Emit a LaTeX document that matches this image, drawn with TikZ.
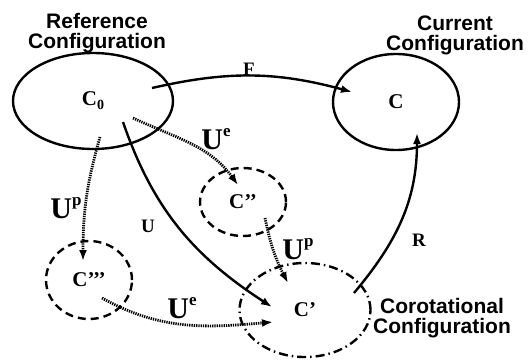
\documentclass[tikz,border=0pt]{standalone}
\usepackage{fontspec}
\setmainfont{Liberation Serif}
\setsansfont{Liberation Sans}
\usetikzlibrary{arrows.meta,shapes.geometric}

\newcommand\Uwith[1]{U\raisebox{13pt}{\fontsize{17}{17}\selectfont #1}}

\begin{document}
\begin{tikzpicture}[x=1pt,y=1pt,>={Latex[length=11pt,width=8pt]},
  conf/.style={ellipse,draw,line width=2.4pt,inner sep=0pt,font=\bfseries\fontsize{21}{21}\selectfont},
  title/.style={font=\sffamily\bfseries\fontsize{21}{20}\selectfont,align=center},
  map/.style={->,line width=2.4pt},
  dotmap/.style={->,line width=2.8pt,dash pattern=on 1.3pt off 1pt},
  lbl/.style={font=\bfseries\fontsize{19}{19}\selectfont},
  biglbl/.style={font=\bfseries\fontsize{30}{30}\selectfont}]
  \useasboundingbox (0,0) rectangle (529,362);

  % configurations
  \node (c0) [conf,minimum width=160,minimum height=96] at (93,261) {C\raisebox{-4pt}{\fontsize{14}{14}\selectfont 0}};
  \node (cur) [conf,minimum width=126,minimum height=96] at (396,260) {C};
  \node (cpp) [conf,dash pattern=on 8pt off 5pt,minimum width=86,minimum height=68] at (243,160) {C’’};
  \node (cppp) [conf,dash pattern=on 8pt off 5pt,minimum width=86,minimum height=78] at (89,82) {C’’’};
  \node (cp) [conf,dash pattern=on 9pt off 4pt on 1.5pt off 4pt,minimum width=131,minimum height=94] at (305,52) {C’};

  \node (reftitle) [title] at (97,329) {Reference\\Configuration};
  \node (curtitle) [title] at (455,327) {Current\\Configuration};
  \node (corotitle) [title] at (442,44) {Corotational\\Configuration};

  % mappings
  \draw[map] ([shift={(59,13)}]c0.center) to[bend left=14] ([shift={(-44,10)}]cur.center);
  \draw[map] ([shift={(30,-21)}]c0.center) to[out=-71,in=147] ([shift={(-33,3)}]cp.center);
  \draw[map] ([shift={(49,17)}]cp.center) to[out=50,in=270] ([shift={(21,-31)}]cur.center);
  \draw[dotmap] ([shift={(40,-17)}]c0.center) to[out=-25,in=126] ([shift={(-5,17)}]cpp.center);
  \draw[dotmap] ([shift={(7,-36)}]c0.center) to[out=-106,in=90] ([shift={(-6,19)}]cppp.center);
  \draw[dotmap] ([shift={(13,-18)}]cppp.center) to[out=-29,in=185] ([shift={(-32,-12)}]cp.center);
  \draw[dotmap] ([shift={(22,-16)}]cpp.center) to[bend right=8] ([shift={(-17,27)}]cp.center);

  % labels
  \node (lF) [lbl] at (249,293) {F};
  \node (lU) [lbl] at (148,136) {U};
  \node (lR) [lbl] at (419,122) {R};
  \node (lUe1) [biglbl] at (216,223) {\Uwith{e}};
  \node (lUp1) [biglbl] at (66,154) {\Uwith{p}};
  \node (lUe2) [biglbl] at (182,54) {\Uwith{e}};
  \node (lUp2) [biglbl] at (298,113) {\Uwith{p}};
\end{tikzpicture}
\end{document}
